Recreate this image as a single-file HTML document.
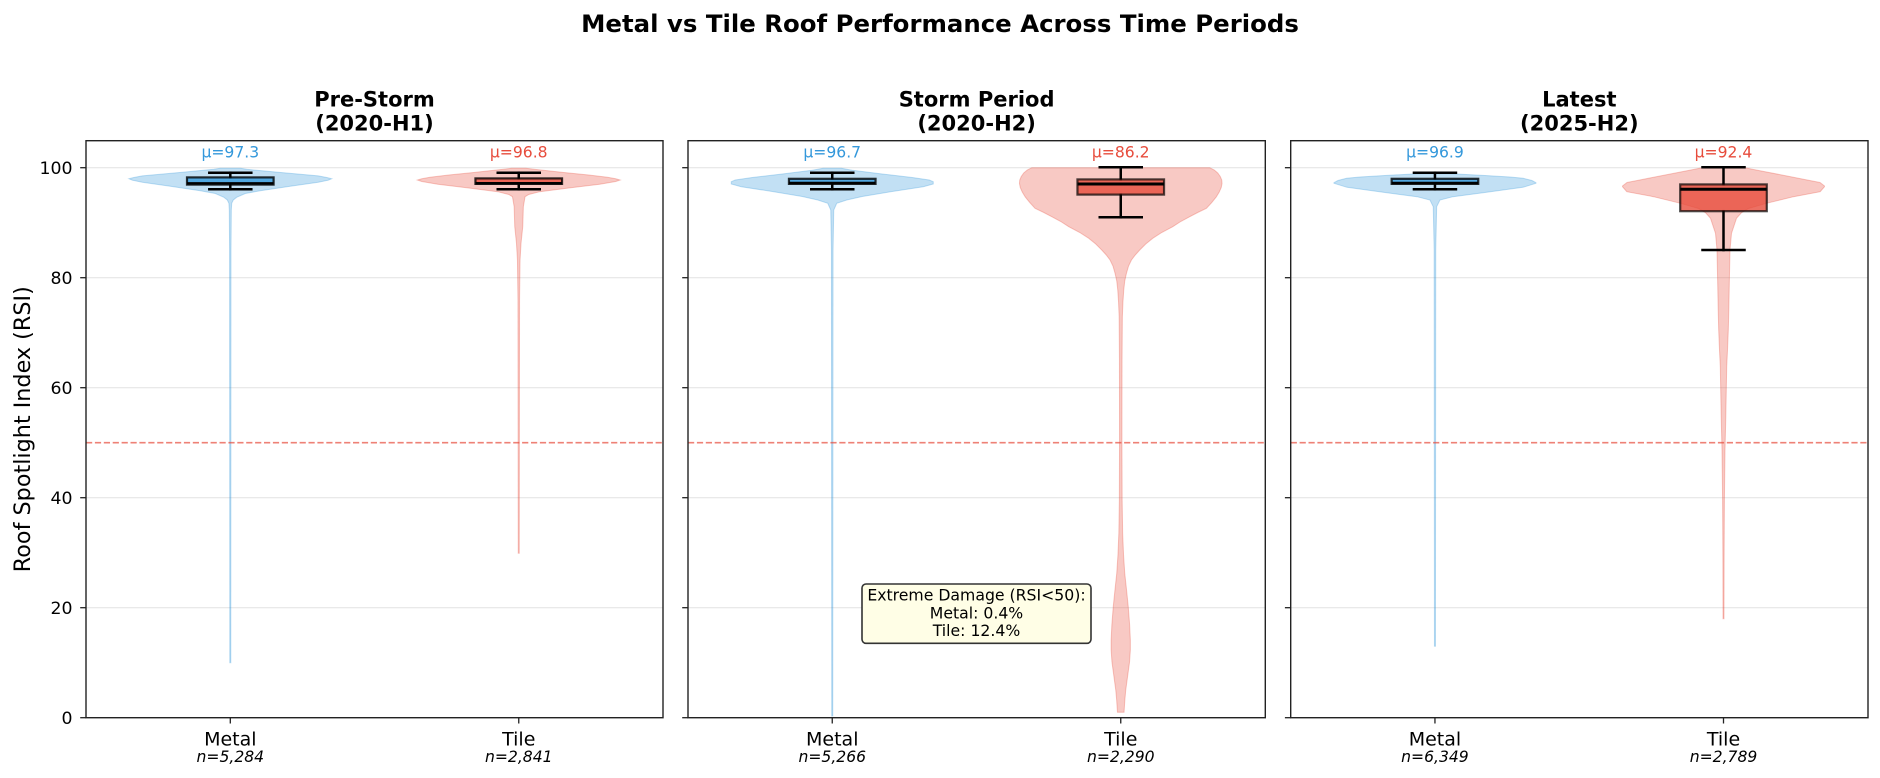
<!DOCTYPE html>
<html>
<head>
<meta charset="utf-8">
<style>
  html,body{margin:0;padding:0;background:#fff;}
  svg{display:block;}
  text{font-family:"DejaVu Sans","Liberation Sans",sans-serif;}
</style>
</head>
<body>
<svg width="1880" height="778" viewBox="0 0 1880 778" xmlns="http://www.w3.org/2000/svg">
  <rect x="0" y="0" width="1880" height="778" fill="#ffffff"/>

  <!-- Suptitle -->
  <text x="940" y="32" text-anchor="middle" font-size="24.4" font-weight="bold" fill="#000">Metal vs Tile Roof Performance Across Time Periods</text>

  <!-- Panel titles -->
  <g font-size="21" font-weight="bold" text-anchor="middle" fill="#000">
    <text x="374.5" y="106.7">Pre-Storm</text>
    <text x="374.5" y="130.7">(2020-H1)</text>
    <text x="976.6" y="106.7">Storm Period</text>
    <text x="976.6" y="130.7">(2020-H2)</text>
    <text x="1579.3" y="106.7">Latest</text>
    <text x="1579.3" y="130.7">(2025-H2)</text>
  </g>

  <!-- Y axis label -->
  <text transform="translate(30,429.2) rotate(-90)" text-anchor="middle" font-size="22.3" fill="#000">Roof Spotlight Index (RSI)</text>

  <!-- Gridlines -->
  <g stroke="#e6e6e6" stroke-width="1.2">
    <line x1="86" y1="607.7" x2="663" y2="607.7"/><line x1="86" y1="497.7" x2="663" y2="497.7"/>
    <line x1="86" y1="387.7" x2="663" y2="387.7"/><line x1="86" y1="277.7" x2="663" y2="277.7"/>
    <line x1="86" y1="167.7" x2="663" y2="167.7"/>
    <line x1="688" y1="607.7" x2="1265.3" y2="607.7"/><line x1="688" y1="497.7" x2="1265.3" y2="497.7"/>
    <line x1="688" y1="387.7" x2="1265.3" y2="387.7"/><line x1="688" y1="277.7" x2="1265.3" y2="277.7"/>
    <line x1="688" y1="167.7" x2="1265.3" y2="167.7"/>
    <line x1="1290.7" y1="607.7" x2="1868" y2="607.7"/><line x1="1290.7" y1="497.7" x2="1868" y2="497.7"/>
    <line x1="1290.7" y1="387.7" x2="1868" y2="387.7"/><line x1="1290.7" y1="277.7" x2="1868" y2="277.7"/>
    <line x1="1290.7" y1="167.7" x2="1868" y2="167.7"/>
  </g>

  <!-- ===== Violins ===== -->
  <!-- P1 Metal -->
  <g transform="translate(230.3,0)" fill="#3498db" fill-opacity="0.3" stroke="#3498db" stroke-opacity="0.3" stroke-width="1">
    <path d="M10,168.3 L16.4,169.3 L45,172 L70,174.2 L88,175.9 L97,177.6 L101.4,178.7 L98,180.2 L88,182.3 L60,186.2 L30,190.7 L15,193.5 L6.4,197.3 L3,200 L1.4,203.3 L1,210 L0.7,250 L0.5,662.7 L-0.5,662.7 L-0.7,250 L-1,210 L-1.4,203.3 L-3,200 L-6.4,197.3 L-15,193.5 L-30,190.7 L-60,186.2 L-88,182.3 L-98,180.2 L-101.4,178.7 L-97,177.6 L-88,175.9 L-70,174.2 L-45,172 L-16.4,169.3 L-10,168.3 Z"/>
  </g>
  <!-- P1 Tile -->
  <g transform="translate(518.75,0)" fill="#e74c3c" fill-opacity="0.3" stroke="#e74c3c" stroke-opacity="0.3" stroke-width="1">
    <path d="M7,168.3 L15.4,169.3 L45,172.5 L70,175 L88.7,177.3 L97,178.8 L101.4,180 L97,181.5 L81,184.3 L50,188 L21,191.7 L10,194.5 L6.3,196.7 L4.6,206.7 L4,226.7 L2.3,243 L1.3,260 L0.8,300 L0.5,553.3 L-0.5,553.3 L-0.8,300 L-1.3,260 L-2.3,243 L-4,226.7 L-4.6,206.7 L-6.3,196.7 L-10,194.5 L-21,191.7 L-50,188 L-81,184.3 L-97,181.5 L-101.4,180 L-97,178.8 L-88.7,177.3 L-70,175 L-45,172.5 L-15.4,169.3 L-7,168.3 Z"/>
  </g>
  <!-- P2 Metal -->
  <g transform="translate(832.25,0)" fill="#3498db" fill-opacity="0.3" stroke="#3498db" stroke-opacity="0.3" stroke-width="1">
    <path d="M9,168.3 L20,170.2 L50,174 L80,177.5 L97,180 L101,181.7 L101,184 L91,186.7 L60,191.5 L30,196.5 L14.5,200 L4.5,203.3 L1.5,210 L0.8,250 L0.5,716 L-0.5,716 L-0.8,250 L-1.5,210 L-4.5,203.3 L-14.5,200 L-30,196.5 L-60,191.5 L-91,186.7 L-101,184 L-101,181.7 L-97,180 L-80,177.5 L-50,174 L-20,170.2 L-9,168.3 Z"/>
  </g>
  <!-- P2 Tile -->
  <g transform="translate(1120.75,0)" fill="#e74c3c" fill-opacity="0.3" stroke="#e74c3c" stroke-opacity="0.3" stroke-width="1">
    <path d="M89,167.7 L93.5,170 L97,173 L99.5,176.5 L101,180 L101.3,183.5 L100.5,187.5 L98.5,192 L95.5,197 L91,202.5 L85.7,208.3 L77,212.5 L69,216.7 L60,221.5 L52,226.7 L41,232.5 L32,238.3 L25,244 L19,250 L14.5,255 L10.7,260 L7.8,266 L5.7,273.3 L4,281 L3,290 L2.2,302 L1.6,316.7 L1.3,360 L1.2,440 L1.4,500 L1.9,533.3 L2.8,555 L4,573.3 L5.8,590 L7.5,606.7 L8.9,625 L9.6,640 L9.6,650 L8.8,662 L6.8,676.7 L5,690 L4.1,700 L3.3,712.3 L-3.3,712.3 L-4.1,700 L-5,690 L-6.8,676.7 L-8.8,662 L-9.6,650 L-9.6,640 L-8.9,625 L-7.5,606.7 L-5.8,590 L-4,573.3 L-2.8,555 L-1.9,533.3 L-1.4,500 L-1.2,440 L-1.3,360 L-1.6,316.7 L-2.2,302 L-3,290 L-4,281 L-5.7,273.3 L-7.8,266 L-10.7,260 L-14.5,255 L-19,250 L-25,244 L-32,238.3 L-41,232.5 L-52,226.7 L-60,221.5 L-69,216.7 L-77,212.5 L-85.7,208.3 L-91,202.5 L-95.5,197 L-98.5,192 L-100.5,187.5 L-101.3,183.5 L-101,180 L-99.5,176.5 L-97,173 L-93.5,170 L-89,167.7 Z"/>
  </g>
  <!-- P3 Metal -->
  <g transform="translate(1434.95,0)" fill="#3498db" fill-opacity="0.3" stroke="#3498db" stroke-opacity="0.3" stroke-width="1">
    <path d="M15,173.7 L21.7,174 L50,175.5 L75,177 L88.3,178.3 L97,180.5 L101,182.7 L101,183.3 L88,187.3 L50,192.5 L18,196.7 L5,200 L1.7,206.7 L0.8,250 L0.5,646.2 L-0.5,646.2 L-0.8,250 L-1.7,206.7 L-5,200 L-18,196.7 L-50,192.5 L-88,187.3 L-101,183.3 L-101,182.7 L-97,180.5 L-88.3,178.3 L-75,177 L-50,175.5 L-21.7,174 L-15,173.7 Z"/>
  </g>
  <!-- P3 Tile -->
  <g transform="translate(1723.5,0)" fill="#e74c3c" fill-opacity="0.3" stroke="#e74c3c" stroke-opacity="0.3" stroke-width="1">
    <path d="M20,167.5 L36.5,170.7 L63.5,176 L85,180.2 L96.5,182.5 L101,186 L101,186.7 L96.7,191.7 L70,196.7 L43,203.3 L25,208.5 L18,212.7 L13,218.3 L8,233.3 L6.5,250 L5.8,283.3 L5.3,310 L4.8,330 L4,350 L3.2,366.7 L2.3,416.7 L1.5,450 L0.9,500 L0.6,560 L0.5,618.7 L-0.5,618.7 L-0.6,560 L-0.9,500 L-1.5,450 L-2.3,416.7 L-3.2,366.7 L-4,350 L-4.8,330 L-5.3,310 L-5.8,283.3 L-6.5,250 L-8,233.3 L-13,218.3 L-18,212.7 L-25,208.5 L-43,203.3 L-70,196.7 L-96.7,191.7 L-101,186.7 L-101,186 L-96.5,182.5 L-85,180.2 L-63.5,176 L-36.5,170.7 L-20,167.5 Z"/>
  </g>

  <!-- ===== Boxplots ===== -->
  <!-- P1 Metal -->
  <g transform="translate(230.3,0)">
    <g stroke="#000" stroke-width="2.5" stroke-linecap="square">
      <line x1="0" y1="177.4" x2="0" y2="172.7"/><line x1="0" y1="184.6" x2="0" y2="189.3"/>
      <line x1="-21" y1="172.7" x2="21" y2="172.7"/><line x1="-21" y1="189.3" x2="21" y2="189.3"/>
    </g>
    <rect x="-43.3" y="177.4" width="86.6" height="7.2" fill="#3498db" fill-opacity="0.8" stroke="#000" stroke-opacity="0.8" stroke-width="2.2"/>
    <line x1="-43.3" y1="183.4" x2="43.3" y2="183.4" stroke="#000" stroke-width="2.5"/>
  </g>
  <!-- P1 Tile -->
  <g transform="translate(518.75,0)">
    <g stroke="#000" stroke-width="2.5" stroke-linecap="square">
      <line x1="0" y1="178.4" x2="0" y2="172.7"/><line x1="0" y1="183.9" x2="0" y2="189.3"/>
      <line x1="-21" y1="172.7" x2="21" y2="172.7"/><line x1="-21" y1="189.3" x2="21" y2="189.3"/>
    </g>
    <rect x="-43.3" y="178.4" width="86.6" height="5.5" fill="#e74c3c" fill-opacity="0.8" stroke="#000" stroke-opacity="0.8" stroke-width="2.2"/>
    <line x1="-43.3" y1="183.2" x2="43.3" y2="183.2" stroke="#000" stroke-width="2.5"/>
  </g>
  <!-- P2 Metal -->
  <g transform="translate(832.25,0)">
    <g stroke="#000" stroke-width="2.5" stroke-linecap="square">
      <line x1="0" y1="178.8" x2="0" y2="172.7"/><line x1="0" y1="183.9" x2="0" y2="189.3"/>
      <line x1="-21" y1="172.7" x2="21" y2="172.7"/><line x1="-21" y1="189.3" x2="21" y2="189.3"/>
    </g>
    <rect x="-43.3" y="178.8" width="86.6" height="5.1" fill="#3498db" fill-opacity="0.8" stroke="#000" stroke-opacity="0.8" stroke-width="2.2"/>
    <line x1="-43.3" y1="183" x2="43.3" y2="183" stroke="#000" stroke-width="2.5"/>
  </g>
  <!-- P2 Tile -->
  <g transform="translate(1120.75,0)">
    <g stroke="#000" stroke-width="2.5" stroke-linecap="square">
      <line x1="0" y1="179.4" x2="0" y2="167.3"/><line x1="0" y1="194.6" x2="0" y2="217.3"/>
      <line x1="-21" y1="167.3" x2="21" y2="167.3"/><line x1="-21" y1="217.3" x2="21" y2="217.3"/>
    </g>
    <rect x="-43.3" y="179.4" width="86.6" height="15.2" fill="#e74c3c" fill-opacity="0.8" stroke="#000" stroke-opacity="0.7" stroke-width="2.2"/>
    <line x1="-43.3" y1="184" x2="43.3" y2="184" stroke="#000" stroke-width="3"/>
  </g>
  <!-- P3 Metal -->
  <g transform="translate(1434.95,0)">
    <g stroke="#000" stroke-width="2.5" stroke-linecap="square">
      <line x1="0" y1="178.8" x2="0" y2="172.7"/><line x1="0" y1="183.9" x2="0" y2="189.3"/>
      <line x1="-21" y1="172.7" x2="21" y2="172.7"/><line x1="-21" y1="189.3" x2="21" y2="189.3"/>
    </g>
    <rect x="-43.3" y="178.8" width="86.6" height="5.1" fill="#3498db" fill-opacity="0.8" stroke="#000" stroke-opacity="0.8" stroke-width="2.2"/>
    <line x1="-43.3" y1="183" x2="43.3" y2="183" stroke="#000" stroke-width="2.5"/>
  </g>
  <!-- P3 Tile -->
  <g transform="translate(1723.5,0)">
    <g stroke="#000" stroke-width="2.5" stroke-linecap="square">
      <line x1="0" y1="184.4" x2="0" y2="167.3"/><line x1="0" y1="211.2" x2="0" y2="250"/>
      <line x1="-21" y1="167.3" x2="21" y2="167.3"/><line x1="-21" y1="250" x2="21" y2="250"/>
    </g>
    <rect x="-43.3" y="184.4" width="86.6" height="26.8" fill="#e74c3c" fill-opacity="0.8" stroke="#000" stroke-opacity="0.7" stroke-width="2.2"/>
    <line x1="-43.3" y1="189.3" x2="43.3" y2="189.3" stroke="#000" stroke-width="3"/>
  </g>

  <!-- Dashed threshold lines at 50 -->
  <g stroke="#e74c3c" stroke-opacity="0.7" stroke-width="1.6" stroke-dasharray="6.2 2.7">
    <line x1="86" y1="442.7" x2="663" y2="442.7"/>
    <line x1="688" y1="442.7" x2="1265.3" y2="442.7"/>
    <line x1="1290.7" y1="442.7" x2="1868" y2="442.7"/>
  </g>

  <!-- Mean labels -->
  <g font-size="15.6" text-anchor="middle">
    <text x="230.3" y="157.3" fill="#3498db">μ=97.3</text>
    <text x="518.75" y="157.3" fill="#e74c3c">μ=96.8</text>
    <text x="832.25" y="157.3" fill="#3498db">μ=96.7</text>
    <text x="1120.75" y="157.3" fill="#e74c3c">μ=86.2</text>
    <text x="1434.95" y="157.3" fill="#3498db">μ=96.9</text>
    <text x="1723.5" y="157.3" fill="#e74c3c">μ=92.4</text>
  </g>

  <!-- Annotation box -->
  <rect x="862" y="584" width="229" height="59.3" rx="4" ry="4" fill="#fffee6" stroke="#333" stroke-width="1.6"/>
  <g font-size="15.7" text-anchor="middle" fill="#000">
    <text x="976.5" y="600.7">Extreme Damage (RSI&lt;50):</text>
    <text x="976.5" y="618.3">Metal: 0.4%</text>
    <text x="976.5" y="636">Tile: 12.4%</text>
  </g>

  <!-- Axes frames -->
  <g fill="none" stroke="#222" stroke-width="1.4">
    <rect x="86" y="140.7" width="577" height="577"/>
    <rect x="688" y="140.7" width="577.3" height="577"/>
    <rect x="1290.7" y="140.7" width="577.3" height="577"/>
  </g>

  <!-- Y ticks -->
  <g stroke="#222" stroke-width="1.3">
    <line x1="80.2" y1="717.7" x2="86" y2="717.7"/><line x1="80.2" y1="607.7" x2="86" y2="607.7"/>
    <line x1="80.2" y1="497.7" x2="86" y2="497.7"/><line x1="80.2" y1="387.7" x2="86" y2="387.7"/>
    <line x1="80.2" y1="277.7" x2="86" y2="277.7"/><line x1="80.2" y1="167.7" x2="86" y2="167.7"/>
    <line x1="682.2" y1="717.7" x2="688" y2="717.7"/><line x1="682.2" y1="607.7" x2="688" y2="607.7"/>
    <line x1="682.2" y1="497.7" x2="688" y2="497.7"/><line x1="682.2" y1="387.7" x2="688" y2="387.7"/>
    <line x1="682.2" y1="277.7" x2="688" y2="277.7"/><line x1="682.2" y1="167.7" x2="688" y2="167.7"/>
    <line x1="1284.9" y1="717.7" x2="1290.7" y2="717.7"/><line x1="1284.9" y1="607.7" x2="1290.7" y2="607.7"/>
    <line x1="1284.9" y1="497.7" x2="1290.7" y2="497.7"/><line x1="1284.9" y1="387.7" x2="1290.7" y2="387.7"/>
    <line x1="1284.9" y1="277.7" x2="1290.7" y2="277.7"/><line x1="1284.9" y1="167.7" x2="1290.7" y2="167.7"/>
    <!-- X ticks -->
    <line x1="230.3" y1="717.7" x2="230.3" y2="723.5"/><line x1="518.75" y1="717.7" x2="518.75" y2="723.5"/>
    <line x1="832.25" y1="717.7" x2="832.25" y2="723.5"/><line x1="1120.75" y1="717.7" x2="1120.75" y2="723.5"/>
    <line x1="1434.95" y1="717.7" x2="1434.95" y2="723.5"/><line x1="1723.5" y1="717.7" x2="1723.5" y2="723.5"/>
  </g>

  <!-- Y tick labels -->
  <g font-size="17.3" text-anchor="end" fill="#000">
    <text x="72.5" y="724">0</text>
    <text x="72.5" y="614">20</text>
    <text x="72.5" y="504">40</text>
    <text x="72.5" y="394">60</text>
    <text x="72.5" y="284">80</text>
    <text x="72.5" y="174">100</text>
  </g>

  <!-- X tick labels -->
  <g font-size="19" text-anchor="middle" fill="#000">
    <text x="230.3" y="745.3">Metal</text>
    <text x="518.75" y="745.3">Tile</text>
    <text x="832.25" y="745.3">Metal</text>
    <text x="1120.75" y="745.3">Tile</text>
    <text x="1434.95" y="745.3">Metal</text>
    <text x="1723.5" y="745.3">Tile</text>
  </g>
  <g font-size="15.6" font-style="italic" text-anchor="middle" fill="#000">
    <text x="230.3" y="762">n=5,284</text>
    <text x="518.75" y="762">n=2,841</text>
    <text x="832.25" y="762">n=5,266</text>
    <text x="1120.75" y="762">n=2,290</text>
    <text x="1434.95" y="762">n=6,349</text>
    <text x="1723.5" y="762">n=2,789</text>
  </g>
</svg>
</body>
</html>
